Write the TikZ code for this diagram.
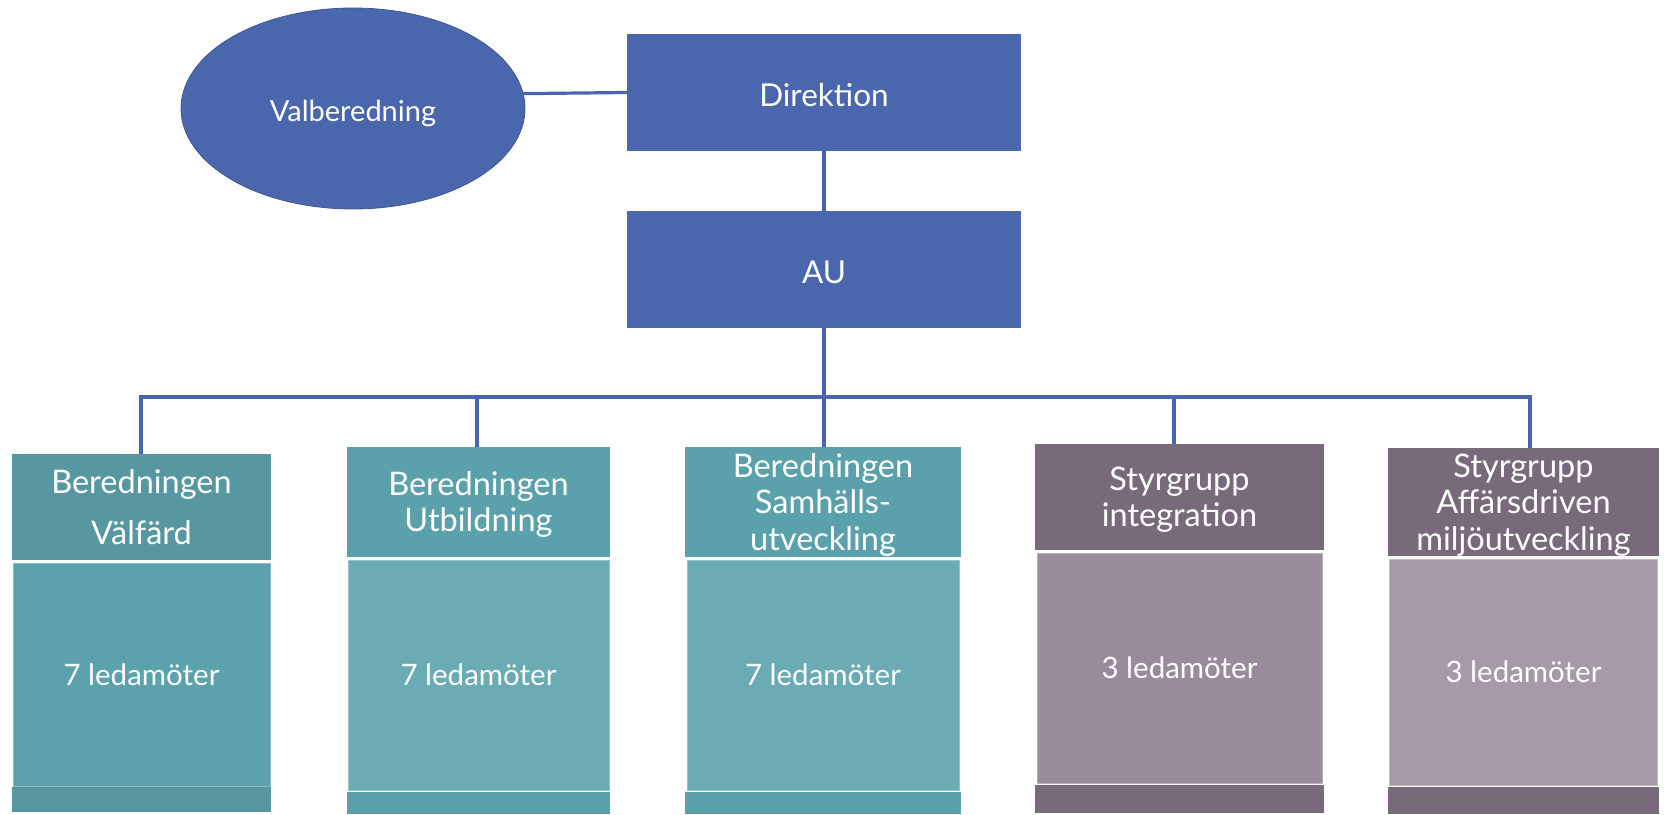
\documentclass[tikz,border=0pt]{standalone}
\usepackage{fontspec}
\setmainfont{Lato}
\usetikzlibrary{shapes.geometric}
\definecolor{blu}{HTML}{4A66AC}
\definecolor{blubord}{HTML}{3F5996}
\definecolor{linecol}{HTML}{4A64B0}
\definecolor{tealhA}{HTML}{5797A1}
\definecolor{tealbA}{HTML}{5CA2AD}
\definecolor{tealh}{HTML}{5AA1AC}
\definecolor{tealb}{HTML}{6BABB5}
\definecolor{purh}{HTML}{786A7B}
\definecolor{purbA}{HTML}{9A8B9C}
\definecolor{purbB}{HTML}{A699A8}
\newcommand\capl[1]{\rule{0pt}{0.72em}\smash{#1}}
\newcommand\capt[1]{\rule{0pt}{\dimexpr0.72em+6pt\relax}\smash{#1}}
\tikzset{
  box/.style={rectangle, inner sep=0pt, outer sep=0pt, text=white, align=center},
  hdrtext/.style={font=\fontsize{32.5}{36.5}\selectfont},
  bodytext/.style={font=\fontsize{29.5}{34}\selectfont},
  bodybox/.style={box, bodytext, line width=0.8pt},
  topbox/.style={box, fill=blu, minimum width=394pt, minimum height=117pt, font=\fontsize{31.5}{36}\selectfont},
  conn/.style={draw=linecol, line width=3.2pt},
}
\begin{document}
\begin{tikzpicture}[x=1pt,y=-1pt]
\useasboundingbox (0,0) rectangle (1665,814);
% top part
\node[ellipse, inner sep=0pt, outer sep=0pt, fill=blu, draw=blubord, line width=0.8pt,
      minimum width=344pt, minimum height=201pt, text=white,
      font=\fontsize{29}{34}\selectfont] (val) at (353,108.5) {\capt{Valberedning}};
\node[topbox] (dir) at (824,92.5) {\capt{Direktion}};
\node[topbox] (au) at (824,269.5) {\capt{AU}};
% box 1
\node[box, hdrtext, fill=tealhA, minimum width=259pt, minimum height=106pt] (h1) at (141.5,507)
  {\capl{Beredningen}\\[14.5pt]\capl{Välfärd}};
\node[bodybox, fill=tealbA, draw=tealbA!70!white, minimum width=257pt, minimum height=223pt] (b1) at (141.5,674.5) {\capl{7 ledamöter}};
\node[box, fill=tealhA, minimum width=259pt, minimum height=25pt] (f1) at (141.5,799.5) {};
% box 2
\node[box, hdrtext, fill=tealh, minimum width=263pt, minimum height=110pt] (h2) at (478.5,502)
  {\capl{Beredningen}\\\capl{Utbildning}};
\node[bodybox, fill=tealb, draw=tealb!70!white, minimum width=261pt, minimum height=229.5pt] (b2) at (478.5,675.25) {\capl{7 ledamöter}};
\node[box, fill=tealh, minimum width=263pt, minimum height=22pt] (f2) at (478.5,803) {};
% box 3
\node[box, hdrtext, fill=tealh, minimum width=276pt, minimum height=110pt] (h3) at (823,502)
  {\capl{Beredningen}\\\capl{Samhälls-}\\\capl{utveckling}};
\node[bodybox, fill=tealb, draw=tealb!70!white, minimum width=272pt, minimum height=229.5pt] (b3) at (823,675.25) {\capl{7 ledamöter}};
\node[box, fill=tealh, minimum width=276pt, minimum height=22pt] (f3) at (823,803) {};
% box 4
\node[box, hdrtext, fill=purh, minimum width=289pt, minimum height=106pt] (h4) at (1179.5,497)
  {\capl{Styrgrupp}\\\capl{integration}};
\node[bodybox, fill=purbA, draw=purbA!70!white, minimum width=285pt, minimum height=229.5pt] (b4) at (1179.5,668.25) {\capl{3 ledamöter}};
\node[box, fill=purh, minimum width=289pt, minimum height=28pt] (f4) at (1179.5,799) {};
% box 5
\node[box, hdrtext, fill=purh, minimum width=271pt, minimum height=108pt] (h5) at (1523.5,502)
  {\capl{Styrgrupp}\\\capl{Affärsdriven}\\\capl{miljöutveckling}};
\node[bodybox, fill=purbB, draw=purbB!70!white, minimum width=268pt, minimum height=226pt] (b5) at (1523.5,672) {\capl{3 ledamöter}};
\node[box, fill=purh, minimum width=271pt, minimum height=27pt] (f5) at (1523.5,800.5) {};
% bus junctions
\coordinate (j1) at (141,397);
\coordinate (j2) at (477,397);
\coordinate (j3) at (824,397);
\coordinate (j4) at (1174,397);
\coordinate (j5) at (1530,397);
% connectors
\draw[conn] (val.5) -- (dir.west);
\draw[conn] (dir.south) -- (au.north);
\draw[conn] (au.south) -- (j3);
\draw[conn, line cap=rect] (j1) -- (j5);
\draw[conn] (j1) -- (j1 |- h1.north);
\draw[conn] (j2) -- (j2 |- h2.north);
\draw[conn] (j3) -- (j3 |- h3.north);
\draw[conn] (j4) -- (j4 |- h4.north);
\draw[conn] (j5) -- (j5 |- h5.north);
\end{tikzpicture}
\end{document}
